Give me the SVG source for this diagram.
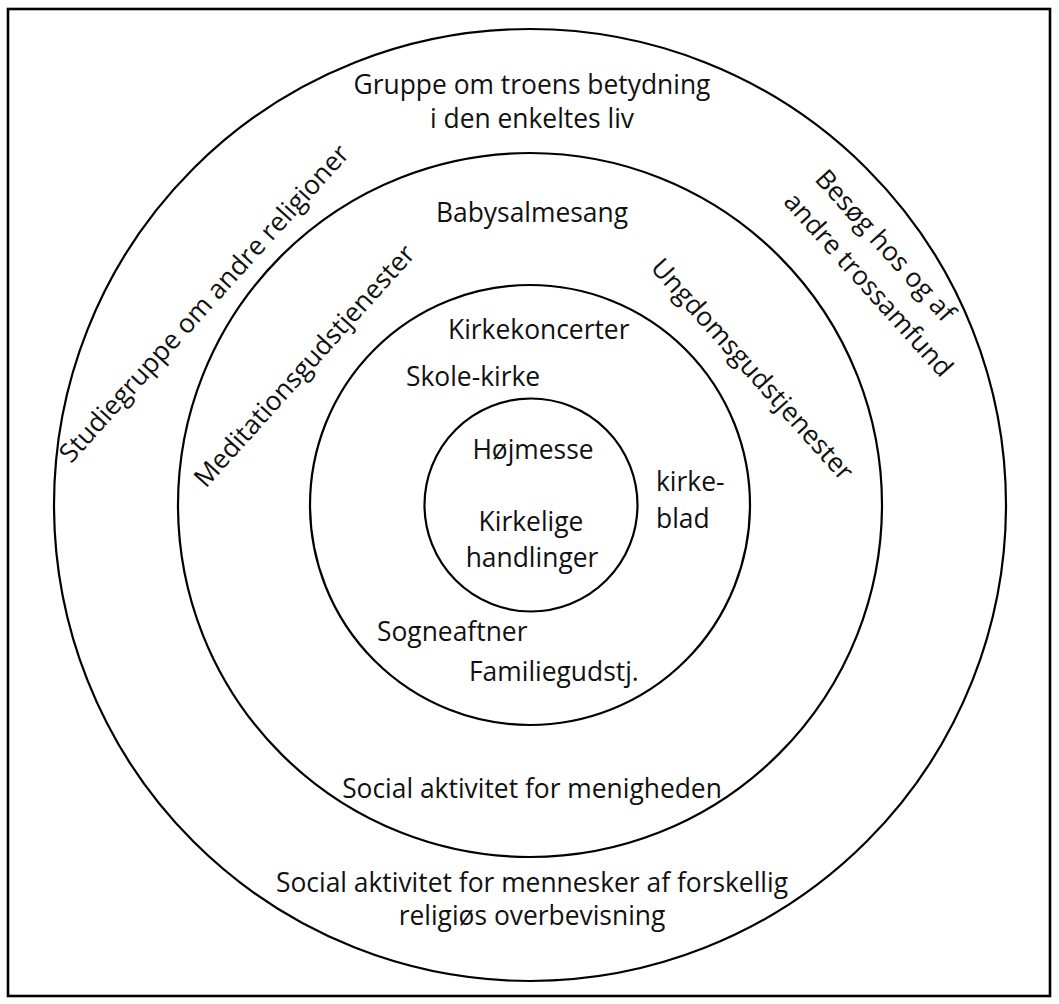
<svg xmlns="http://www.w3.org/2000/svg" width="1059" height="1004" viewBox="0 0 1059 1004">
  <style>
    .ring { fill: none; stroke: #000; stroke-width: 2.2; }
    .frame { fill: #fff; stroke: #000; stroke-width: 2.6; }
    text { font-family: "Open Sans", "Noto Sans", "DejaVu Sans", sans-serif; font-size: 26.4px; fill: #111; }
    .c { text-anchor: middle; }
    .s { text-anchor: start; }
  </style>
  <rect class="frame" x="8" y="9" width="1042" height="987"/>
  <g id="connectors"/>
  <g id="ring-outer">
    <circle class="ring" cx="530" cy="505" r="476"/>
    <text class="c" x="532" y="94">Gruppe om troens betydning</text>
    <text class="c" x="532" y="127.5">i den enkeltes liv</text>
    <text class="c" transform="translate(210.8,309.5) rotate(-47.9)">Studiegruppe om andre religioner</text>
    <text class="c" transform="translate(878.6,251.6) rotate(48)">Besøg hos og af</text>
    <text class="c" transform="translate(861.8,290.6) rotate(48)">andre trossamfund</text>
    <text class="c" x="532" y="891.5">Social aktivitet for mennesker af forskellig</text>
    <text class="c" x="532" y="925">religiøs overbevisning</text>
  </g>
  <g id="ring-second">
    <circle class="ring" cx="530" cy="505" r="352"/>
    <text class="c" x="532" y="222">Babysalmesang</text>
    <text class="c" transform="translate(311,372) rotate(-48)">Meditationsgudstjenester</text>
    <text class="c" transform="translate(745.6,375.4) rotate(48)">Ungdomsgudstjenester</text>
    <text class="c" x="532" y="798">Social aktivitet for menigheden</text>
  </g>
  <g id="ring-third">
    <circle class="ring" cx="530" cy="505" r="220"/>
    <text class="s" x="448" y="338.5">Kirkekoncerter</text>
    <text class="s" x="406" y="386">Skole-kirke</text>
    <text class="s" x="656" y="491.4">kirke-</text>
    <text class="s" x="656" y="527.6">blad</text>
    <text class="s" x="377" y="641">Sogneaftner</text>
    <text class="s" x="469" y="680.5">Familiegudstj.</text>
  </g>
  <g id="ring-inner">
    <circle class="ring" cx="531" cy="505" r="106.5"/>
    <text class="c" x="533" y="458.6">Højmesse</text>
    <text class="c" x="531" y="531">Kirkelige</text>
    <text class="c" x="532" y="567">handlinger</text>
  </g>
</svg>
